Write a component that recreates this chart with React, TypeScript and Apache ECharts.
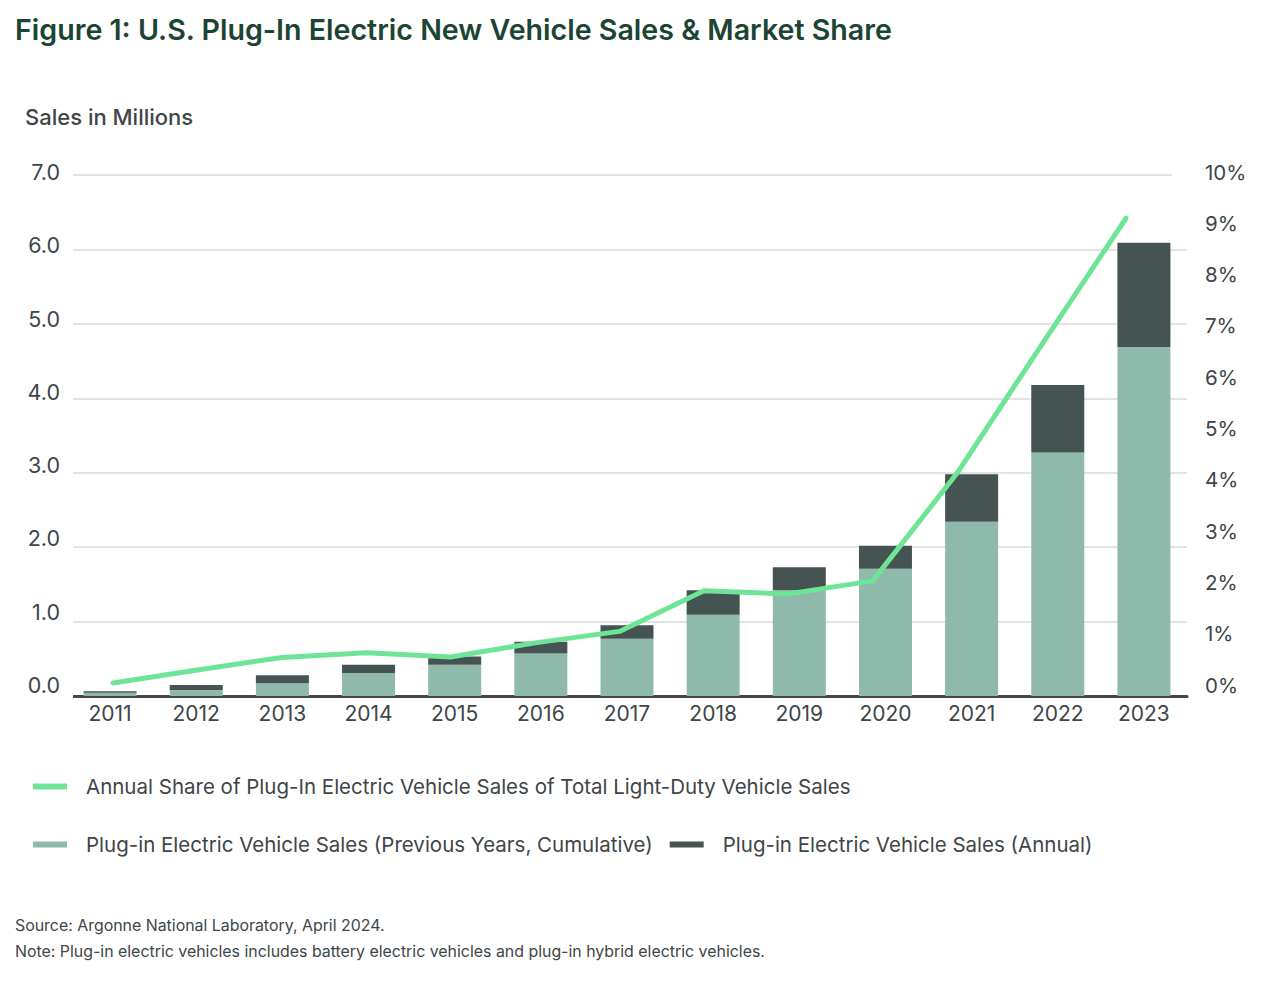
import React, { useEffect, useRef } from "react";
import * as echarts from "echarts";

const years = ["2011", "2012", "2013", "2014", "2015", "2016", "2017", "2018", "2019", "2020", "2021", "2022", "2023"];
const prevCumulative = [0.045, 0.08, 0.17, 0.31, 0.42, 0.57, 0.77, 1.09, 1.42, 1.71, 2.34, 3.27, 4.69];
const annualSales = [0.02, 0.068, 0.11, 0.11, 0.11, 0.16, 0.18, 0.33, 0.31, 0.31, 0.64, 0.91, 1.4];
const marketShare = [0.25, 0.5, 0.74, 0.83, 0.75, 1.02, 1.24, 2.02, 1.96, 2.21, 4.28, 6.74, 9.17];

const NAME_LINE = "Annual Share of Plug-In Electric Vehicle Sales of Total Light-Duty Vehicle Sales";
const NAME_PREV = "Plug-in Electric Vehicle Sales (Previous Years, Cumulative)";
const NAME_ANNUAL = "Plug-in Electric Vehicle Sales (Annual)";

const FONT = "Inter, 'Noto Sans', sans-serif";
const TEXT = "#404547";
const C_LINE = "#6ee596";
const C_PREV = "#8fbaab";
const C_ANNUAL = "#465353";

export default function App() {
  const ref = useRef<HTMLDivElement>(null);
  useEffect(() => {
    document.body.style.margin = "0";
    const chart = echarts.init(ref.current!, null, { renderer: "svg" });
    chart.setOption({
      animation: false,
      backgroundColor: "#ffffff",
      textStyle: { fontFamily: FONT },
      title: [
        {
          text: "Figure 1: U.S. Plug-In Electric New Vehicle Sales & Market Share",
          left: 15,
          top: 15,
          padding: 0,
          textStyle: { fontFamily: FONT, fontSize: 28.6, fontWeight: 600, color: "#1b4532" },
        },
        {
          text: "Sales in Millions",
          left: 25,
          top: 106,
          padding: 0,
          textStyle: { fontFamily: FONT, fontSize: 22, fontWeight: 500, color: TEXT },
        },
        {
          text: "Source: Argonne National Laboratory, April 2024.",
          left: 15,
          top: 917,
          padding: 0,
          textStyle: { fontFamily: FONT, fontSize: 15.9, fontWeight: 400, color: TEXT },
        },
        {
          text: "Note: Plug-in electric vehicles includes battery electric vehicles and plug-in hybrid electric vehicles.",
          left: 15,
          top: 943,
          padding: 0,
          textStyle: { fontFamily: FONT, fontSize: 15.9, fontWeight: 400, color: TEXT },
        },
      ],
      legend: [
        {
          data: [NAME_LINE],
          left: 33,
          top: 776,
          padding: 0,
          icon: "rect",
          itemWidth: 34,
          itemHeight: 6,
          textStyle: { fontFamily: FONT, fontSize: 20.5, color: TEXT, padding: [0, 0, 0, 14] },
          selectedMode: false,
        },
        {
          data: [NAME_PREV, NAME_ANNUAL],
          left: 33,
          top: 834,
          padding: 0,
          icon: "rect",
          itemWidth: 34,
          itemHeight: 6,
          itemGap: 17,
          textStyle: { fontFamily: FONT, fontSize: 20.5, color: TEXT, padding: [0, 0, 0, 14] },
          selectedMode: false,
        },
      ],
      grid: [
        { left: 67, right: 93, top: 175, height: 521 },
        { left: 113, right: 154, top: 175, height: 521 },
        { left: 67, right: 93, top: 172, height: 513 },
      ],
      xAxis: [
        {
          type: "category",
          gridIndex: 0,
          data: years,
          axisLine: { lineStyle: { color: "#474747", width: 3 } },
          axisTick: { show: false },
          axisLabel: { color: TEXT, fontSize: 21, margin: 7, fontFamily: FONT },
        },
        {
          type: "category",
          gridIndex: 1,
          data: years,
          boundaryGap: false,
          show: false,
        },
        {
          type: "category",
          gridIndex: 2,
          data: years,
          show: false,
        },
      ],
      yAxis: [
        {
          type: "value",
          gridIndex: 0,
          min: 0,
          max: 7,
          interval: 1,
          axisLabel: { show: false },
          axisLine: { show: false },
          axisTick: { show: false },
          splitLine: { lineStyle: { color: "#dadada", width: 1.5 } },
        },
        {
          type: "value",
          gridIndex: 1,
          min: 0,
          max: 10,
          interval: 1,
          show: false,
          splitLine: { show: false },
        },
        {
          type: "value",
          gridIndex: 2,
          position: "left",
          min: 0,
          max: 7,
          interval: 1,
          axisLine: { show: false },
          axisTick: { show: false },
          splitLine: { show: false },
          axisLabel: {
            color: TEXT,
            fontSize: 21.5,
            margin: 7,
            fontFamily: FONT,
            formatter: (v: number) => v.toFixed(1),
          },
        },
        {
          type: "value",
          gridIndex: 2,
          position: "right",
          min: 0,
          max: 10,
          interval: 1,
          axisLine: { show: false },
          axisTick: { show: false },
          splitLine: { show: false },
          axisLabel: {
            color: TEXT,
            fontSize: 20.5,
            margin: 18,
            fontFamily: FONT,
            formatter: (v: number) => v + "%",
          },
        },
      ],
      series: [
        {
          name: NAME_PREV,
          type: "bar",
          stack: "sales",
          xAxisIndex: 0,
          yAxisIndex: 0,
          barWidth: 53,
          itemStyle: { color: C_PREV },
          data: prevCumulative,
        },
        {
          name: NAME_ANNUAL,
          type: "bar",
          stack: "sales",
          xAxisIndex: 0,
          yAxisIndex: 0,
          barWidth: 53,
          itemStyle: { color: C_ANNUAL },
          data: annualSales,
        },
        {
          name: NAME_LINE,
          type: "line",
          xAxisIndex: 1,
          yAxisIndex: 1,
          showSymbol: false,
          symbol: "none",
          itemStyle: { color: C_LINE },
          lineStyle: { color: C_LINE, width: 5, cap: "round", join: "round" },
          data: marketShare,
          z: 5,
        },
      ],
      graphic: [
        {
          type: "rect",
          shape: { x: 1172, y: 171, width: 20, height: 8 },
          style: { fill: "#ffffff" },
          z: 1,
        },
        {
          type: "rect",
          shape: { x: 64, y: 170, width: 9, height: 530 },
          style: { fill: "#ffffff" },
          z: 1,
        },
      ],
    });
    return () => chart.dispose();
  }, []);
  return <div ref={ref} style={{ width: 1280, height: 986 }} />;
}
